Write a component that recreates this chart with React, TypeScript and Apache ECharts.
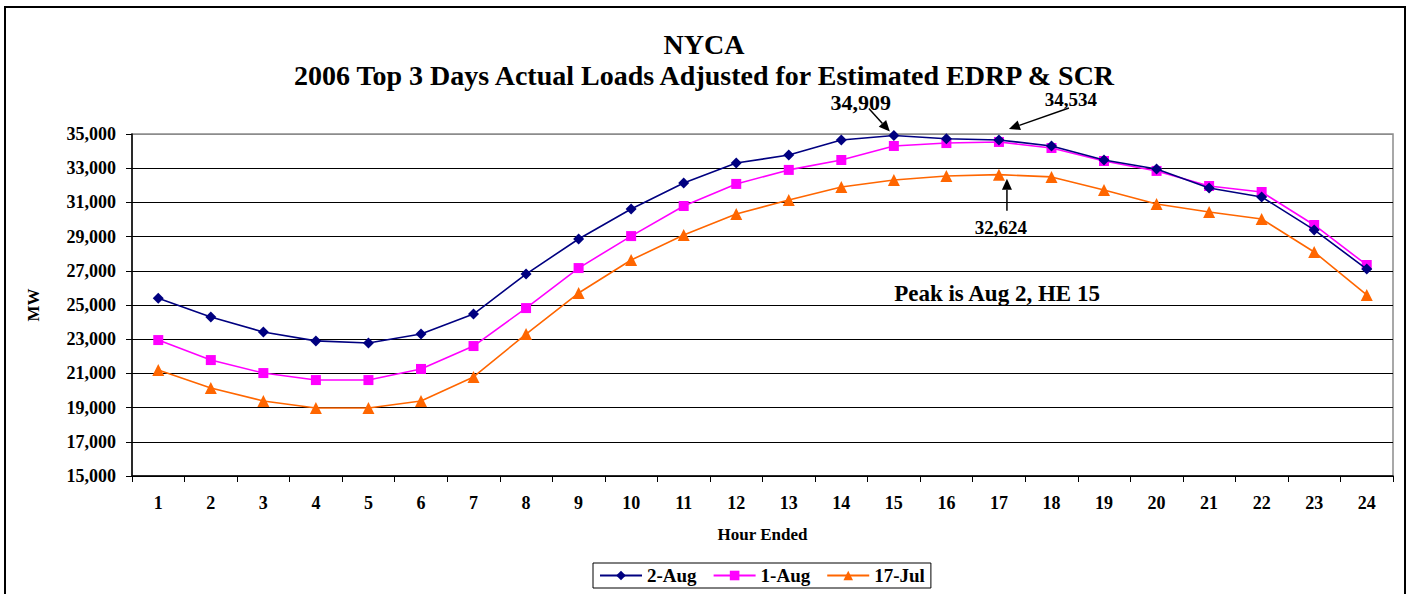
import React, { useEffect, useRef } from "react";
import * as echarts from "echarts";

const hours = ["1","2","3","4","5","6","7","8","9","10","11","12","13","14","15","16","17","18","19","20","21","22","23","24"];
const aug2 = [25400,24300,23420,22900,22780,23300,24470,26810,28860,30610,32130,33300,33770,34650,34909,34720,34650,34300,33480,32950,31840,31320,29390,27100];
const aug1 = [22950,21780,21020,20610,20610,21260,22600,24820,27160,29030,30790,32080,32900,33480,34300,34470,34534,34180,33420,32840,31960,31610,29680,27340];
const jul17 = [21200,20150,19390,18980,18980,19390,20790,23300,25700,27630,29090,30320,31140,31900,32310,32540,32624,32490,31730,30910,30440,30030,28100,25590];
const seriesNames = ["2-Aug", "1-Aug", "17-Jul"];
const yMin = 15000;
const yMax = 35000;
const yStep = 2000;

const FONT = "Liberation Serif";

export default function App() {
  const ref = useRef<HTMLDivElement>(null);
  useEffect(() => {
    const chart = echarts.init(ref.current!, null, { renderer: "svg" });
    const splitColors = [];
    for (let v = yMin; v <= yMax; v += yStep) splitColors.push(v === yMax ? "#8c8c8c" : "#000");
    chart.setOption({
      animation: false,
      backgroundColor: "#fff",
      textStyle: { fontFamily: FONT, fontWeight: "bold", color: "#000" },
      title: [
        { text: "NYCA", left: "center", top: 25, textStyle: { fontFamily: FONT, fontSize: 28, fontWeight: "bold", color: "#000" } },
        { text: "2006 Top 3 Days Actual Loads Adjusted for Estimated EDRP & SCR", left: "center", top: 56, textStyle: { fontFamily: FONT, fontSize: 28, fontWeight: "bold", color: "#000" } },
      ],
      grid: { left: 132, right: 15, top: 134, bottom: 118, show: true, borderColor: "#8c8c8c", borderWidth: 1.5, backgroundColor: "transparent" },
      legend: {
        data: seriesNames,
        left: 593,
        top: 563,
        orient: "horizontal",
        borderColor: "#000",
        borderWidth: 1,
        padding: [3, 6, 3, 6],
        itemWidth: 42,
        itemHeight: 12,
        itemGap: 16,
        textStyle: { fontFamily: FONT, fontSize: 19, fontWeight: "bold", color: "#000" },
      },
      xAxis: {
        type: "category",
        data: hours,
        boundaryGap: true,
        name: "Hour Ended",
        nameLocation: "middle",
        nameGap: 50,
        nameTextStyle: { fontFamily: FONT, fontSize: 17, fontWeight: "bold", color: "#000" },
        axisLine: { lineStyle: { color: "#000", width: 1.5 } },
        axisTick: { show: true, inside: false, length: 6, alignWithLabel: false, interval: 0, lineStyle: { color: "#000" } },
        axisLabel: { interval: 0, margin: 18, fontFamily: FONT, fontSize: 18, fontWeight: "bold", color: "#000" },
        splitLine: { show: false },
      },
      yAxis: {
        type: "value",
        min: yMin,
        max: yMax,
        interval: yStep,
        name: "MW",
        nameLocation: "middle",
        nameRotate: 90,
        nameGap: 90,
        nameTextStyle: { fontFamily: FONT, fontSize: 17, fontWeight: "bold", color: "#000" },
        axisLine: { show: true, lineStyle: { color: "#000", width: 1.5 } },
        axisTick: { show: true, inside: false, length: 6, lineStyle: { color: "#000" } },
        axisLabel: {
          margin: 16,
          fontFamily: FONT,
          fontSize: 18,
          fontWeight: "bold",
          color: "#000",
          formatter: (v: number) => v.toLocaleString("en-US"),
        },
        splitLine: { show: true, lineStyle: { color: splitColors, width: 1 } },
      },
      series: [
        { name: seriesNames[0], type: "line", data: aug2, symbol: "diamond", symbolSize: 11, itemStyle: { color: "#000080" }, lineStyle: { color: "#000080", width: 1.6 }, z: 4 },
        { name: seriesNames[1], type: "line", data: aug1, symbol: "rect", symbolSize: 10, itemStyle: { color: "#ff00ff" }, lineStyle: { color: "#ff00ff", width: 1.6 }, z: 3 },
        { name: seriesNames[2], type: "line", data: jul17, symbol: "triangle", symbolSize: 12, itemStyle: { color: "#ff6600" }, lineStyle: { color: "#ff6600", width: 1.6 }, z: 2 },
      ],
    });

    const px = (i: number, v: number) => chart.convertToPixel({ gridIndex: 0 }, [i, v]) as number[];
    const arrow = (x1: number, y1: number, x2: number, y2: number) => {
      const dx = x2 - x1, dy = y2 - y1;
      const len = Math.sqrt(dx * dx + dy * dy);
      const ux = dx / len, uy = dy / len;
      const hl = 11, hw = 5;
      const bx = x2 - ux * hl, by = y2 - uy * hl;
      return [
        { type: "line", shape: { x1, y1, x2: bx, y2: by }, style: { stroke: "#000", lineWidth: 1.5 }, z: 20 },
        { type: "polygon", shape: { points: [[x2, y2], [bx - uy * hw, by + ux * hw], [bx + uy * hw, by - ux * hw]] }, style: { fill: "#000" }, z: 20 },
      ];
    };
    const txt = (x: number, y: number, text: string, size: number) => ({
      type: "text",
      x,
      y,
      z: 20,
      style: { text, fontFamily: FONT, fontSize: size, fontWeight: "bold", fill: "#000", align: "center", verticalAlign: "middle" },
    });

    const iPeak = 14;
    const p1 = px(iPeak, aug2[iPeak]);
    const iB = 16;
    const p2 = px(iB, aug1[iB]);
    const p3 = px(iB, jul17[iB]);

    chart.setOption({
      graphic: [
        { type: "rect", shape: { x: 5, y: 7, width: 1400, height: 600 }, style: { fill: "none", stroke: "#000", lineWidth: 2 }, z: 0, silent: true },
        txt(p1[0] - 33, p1[1] - 33, "34,909", 22),
        ...arrow(p1[0] - 25, p1[1] - 27, p1[0] - 4, p1[1] - 4),
        txt(p2[0] + 72, p2[1] - 42, "34,534", 19),
        ...arrow(p2[0] + 70, p2[1] - 34, p2[0] + 10, p2[1] - 13),
        txt(p3[0] + 2, p3[1] + 53, "32,624", 19),
        ...arrow(p3[0] + 8, p3[1] + 36, p3[0] + 8, p3[1] + 4),
        txt(997, 293, "Peak is Aug 2, HE 15", 23),
      ],
    });
    return () => chart.dispose();
  }, []);
  return <div ref={ref} style={{ position: "fixed", left: 0, top: 0, width: 1408, height: 594 }} />;
}
